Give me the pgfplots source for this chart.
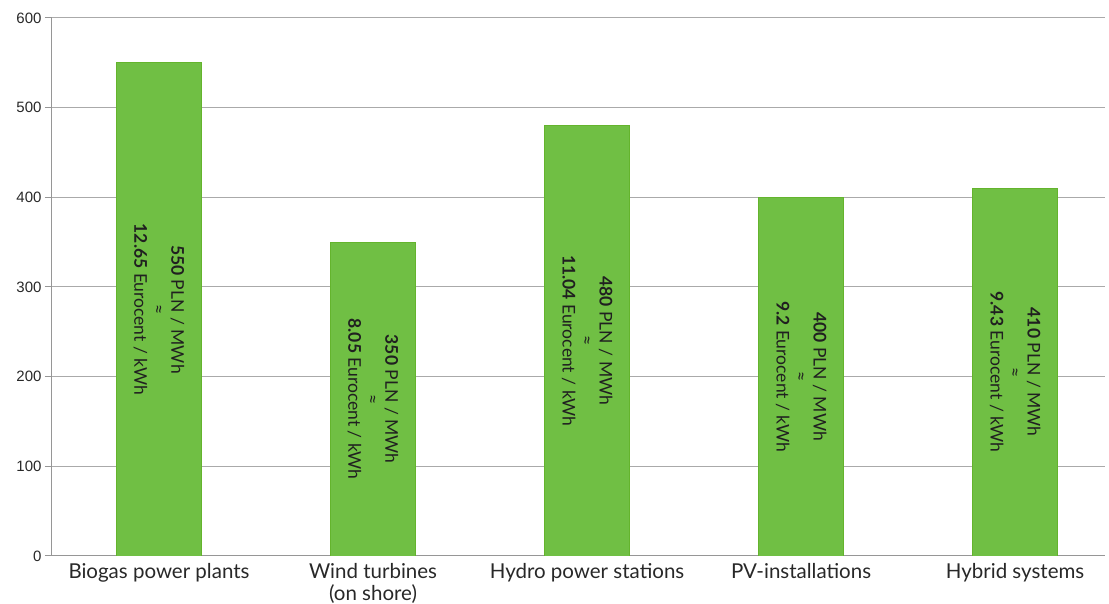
\documentclass[border=0pt]{standalone}
\usepackage{pgfplots}
\pgfplotsset{compat=1.18}
\usepackage{fontspec}
\setmainfont{Lato}
\newfontfamily\arialf{Liberation Sans}
\definecolor{barg}{RGB}{112,191,68}
\definecolor{bare}{RGB}{100,180,45}
\definecolor{gridc}{RGB}{170,170,170}
\definecolor{axc}{RGB}{150,150,150}
\definecolor{txt}{RGB}{40,40,40}
\begin{document}
\begin{tikzpicture}[x=1pt,y=1pt]
\path[use as bounding box] (-52,-48) rectangle (1057,556);
\begin{axis}[
  at={(0,0)}, anchor=south west,
  scale only axis, width=1053pt, height=538pt,
  xmin=-0.5, xmax=4.42, ymin=0, ymax=600,
  axis x line*=bottom, axis y line*=left,
  axis line style={draw=axc, line width=1pt, -},
  ytick={0,100,...,600},
  ymajorgrids,
  grid style={draw=gridc, line width=1pt},
  tick align=outside,
  major tick length=7pt,
  ytick style={draw=axc, line width=1pt},
  yticklabel style={font=\fontsize{15}{18}\arialf, text=txt},
  /pgf/number format/assume math mode=true,
  xtick={0,...,4},
  xticklabels={Biogas power plants, {Wind turbines\\(on shore)}, Hydro power stations, PV-installations, Hybrid systems},
  xticklabel style={align=center, font=\fontsize{20.5}{22}\selectfont, text=txt, yshift=3pt},
  x tick style={draw=none},
  extra x ticks={-0.5,0.5,1.5,2.5,3.5},
  extra x tick labels={},
  extra x tick style={major tick length=6pt, tick style={draw=axc, line width=1pt}, grid=none},
]
\addplot[ybar, bar width=85pt, fill=barg, draw=bare, line width=0.8pt]
  coordinates {(0,550) (1,350) (2,480) (3,400) (4,410)};
\begin{scope}[every node/.style={rotate=-90, align=center, font=\fontsize{17.5}{18.5}\selectfont, text=txt!80!black}]
\node at (axis cs:0,275) {\textbf{550} PLN / MWh\\≈\\\textbf{12.65} Eurocent / kWh};
\node at (axis cs:1,175) {\textbf{350} PLN / MWh\\≈\\\textbf{8.05} Eurocent / kWh};
\node at (axis cs:2,240) {\textbf{480} PLN / MWh\\≈\\\textbf{11.04} Eurocent / kWh};
\node at (axis cs:3,200) {\textbf{400} PLN / MWh\\≈\\\textbf{9.2} Eurocent / kWh};
\node at (axis cs:4,205) {\textbf{410} PLN / MWh\\≈\\\textbf{9.43} Eurocent / kWh};
\end{scope}
\end{axis}
\end{tikzpicture}
\end{document}
